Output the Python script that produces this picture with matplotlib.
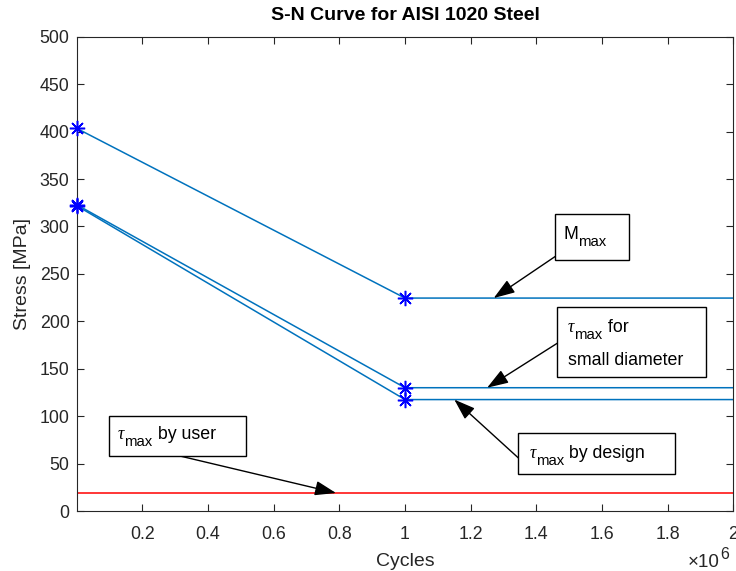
import numpy as np
import matplotlib
matplotlib.use("Agg")
import matplotlib.pyplot as plt
from matplotlib.ticker import FuncFormatter
from matplotlib.patches import Rectangle
from matplotlib.transforms import offset_copy

plt.rcParams['font.family'] = ['Liberation Sans', 'DejaVu Sans']

# S-N data for AISI 1020 steel
cycles = [0, 1e6, 2e6]
s_moment = [403.5, 224.5, 224.5]          # M_max
s_small_diam = [323.0, 130.0, 130.0]      # tau_max for small diameter
s_design = [322.0, 117.5, 117.5]          # tau_max by design
user_cycles = [0, 2e6]
s_user = [19.0, 19.0]                     # tau_max by user

yticks = np.arange(0, 501, 50)
xticks = np.arange(0.2e6, 2.01e6, 0.2e6)

line_blue = (0, 0.447, 0.741)
axis_gray = '#262626'
FS = 12.8      # normal text size
FS_SUB = 10.7  # sub/superscript size

fig = plt.figure(figsize=(7.36, 5.71), dpi=100)
ax = fig.add_axes([0.104, 0.105, 0.8926, 0.8307])
renderer = fig.canvas.get_renderer()


# draws a run of text pieces one after another on a common baseline
# pieces: (text, size, dy in pixels, serif italic?)
def draw_run(x, y, pieces, trans, color='black', zorder=6):
    dx = 0
    for txt, size, dy, greek in pieces:
        tr = offset_copy(trans, fig=fig, x=dx, y=dy, units='dots')
        kw = dict(family='Liberation Serif', style='italic') if greek else {}
        t = fig.text(x, y, txt, transform=tr, fontsize=size, va='baseline',
                     ha='left', color=color, zorder=zorder, **kw) if trans is fig.transFigure \
            else ax.text(x, y, txt, transform=tr, fontsize=size, va='baseline',
                         ha='left', color=color, zorder=zorder, **kw)
        dx += t.get_window_extent(renderer).width


for s in (s_moment, s_small_diam, s_design):
    ax.plot(cycles, s, color=line_blue, lw=1.1, zorder=2)
    ax.plot(cycles[:2], s[:2], ls='none', marker=(8, 2, 0), ms=11,
            mew=1.1, color='#0000FF', clip_on=False, zorder=3)
ax.plot(user_cycles, s_user, color='#FF0000', lw=1.1, zorder=2)

ax.set_xlim(0, 2e6)
ax.set_ylim(0, 500)
ax.set_xticks(xticks)
ax.set_yticks(yticks)
ax.xaxis.set_major_formatter(FuncFormatter(lambda v, p: '%g' % round(v / 1e6, 3)))

ax.tick_params(direction='in', length=5, width=0.8, colors=axis_gray,
               labelsize=FS, top=True, right=True)
ax.tick_params(axis='x', pad=11)
ax.tick_params(axis='y', pad=5)
for sp in ax.spines.values():
    sp.set_color(axis_gray)
    sp.set_linewidth(0.8)

ax.set_xlabel('Cycles', fontsize=14, color=axis_gray, labelpad=7)
ax.set_ylabel('Stress [MPa]', fontsize=14, color=axis_gray, labelpad=6)
ax.set_title('S-N Curve for AISI 1020 Steel', fontsize=14, fontweight='bold',
             color='black', pad=12)

# exponent of the cycles axis
draw_run(688 / 736, 1 - 567 / 571,
         [('\u00d710', 13.5, 0, False), ('6', 11.5, 8, False)],
         fig.transFigure, color=axis_gray)

SUB = -7
tau = ('\u03c4', FS, 0, True)
mx = ('max', FS_SUB, SUB, False)

# text boxes: (x0, y0, w, h) in axes fraction, text lines, tail point, arrow tip
notes = [
    ((0.728, 0.529, 0.113, 0.097),
     [((0.7405, 0.5729), [('M', FS, 0, False), mx])],
     (0.730, 0.538), (1.27e6, s_moment[1])),
    ((0.732, 0.283, 0.226, 0.147),
     [((0.748, 0.378), [tau, mx, (' for', FS, 0, False)]),
      ((0.7481, 0.3078), [('small diameter', FS, 0, False)])],
     (0.732, 0.354), (1.25e6, s_small_diam[1])),
    ((0.6725, 0.078, 0.2385, 0.086),
     [((0.690, 0.111), [tau, mx, (' by design', FS, 0, False)])],
     (0.6725, 0.112), (1.15e6, s_design[1])),
    ((0.0495, 0.116, 0.208, 0.084),
     [((0.0632, 0.1518), [tau, mx, (' by user', FS, 0, False)])],
     (0.1575, 0.116), (0.79e6, s_user[0])),
]
for (x0, y0, w, h), lines, tail, tip in notes:
    ax.add_patch(Rectangle((x0, y0), w, h, transform=ax.transAxes,
                           facecolor='white', edgecolor='black', lw=1.0,
                           zorder=5, clip_on=False))
    for (tx, ty), pieces in lines:
        draw_run(tx, ty, pieces, ax.transAxes)
    ax.annotate('', xy=tip, xycoords='data', xytext=tail,
                textcoords='axes fraction', zorder=4,
                arrowprops=dict(arrowstyle='-|>,head_length=1.3,head_width=0.45',
                                color='black', lw=1.0, shrinkA=0, shrinkB=0))

fig.savefig('out.png', dpi=100)
